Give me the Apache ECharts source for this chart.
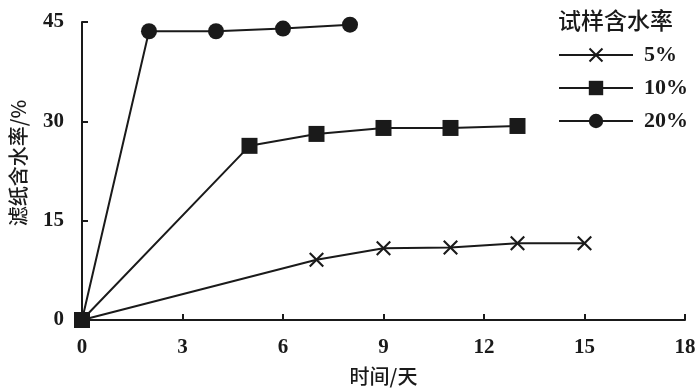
<!DOCTYPE html>
<html><head><meta charset="utf-8">
<script src="https://cdn.jsdelivr.net/npm/echarts@6/dist/echarts.min.js"></script>
<style>html,body{margin:0;padding:0;background:#fff}#c{width:700px;height:391px}</style>
</head><body><div id="c"></div>
<script>
const seriesNames = ['5%', '10%', '20%'];
const days5 = [0, 7, 9, 11, 13, 15];
const vals5 = [0, 9.1, 10.85, 10.95, 11.6, 11.6];
const days10 = [0, 5, 7, 9, 11, 13];
const vals10 = [0, 26.3, 28.1, 29.0, 29.0, 29.3];
const days20 = [0, 2, 4, 6, 8];
const vals20 = [0, 43.6, 43.6, 44.0, 44.6];
const xTicks = [0, 3, 6, 9, 12, 15, 18];
const yTicks = [0, 15, 30, 45];
const legendTitle = '试样含水率';
const xName = '时间/天';
const yName = '滤纸含水率/%';

const ink = '#1a1a1a';
const numFont = "'Liberation Serif', 'Noto Sans CJK SC', serif";
const cjkFont = "'Noto Sans CJK SC', 'Liberation Serif', sans-serif";
const crossPath = 'path://M0,1L1,0L5,4L9,0L10,1L6,5L10,9L9,10L5,6L1,10L0,9L4,5Z';

function pairs(xs, ys) { return xs.map((x, i) => [x, ys[i]]); }

const chart = echarts.init(document.getElementById('c'), null, {renderer: 'canvas'});
chart.setOption({
  animation: false,
  backgroundColor: '#fff',
  title: {
    text: legendTitle, left: 553, top: 4,
    textStyle: {fontFamily: cjkFont, fontSize: 23, fontWeight: 500, color: ink}
  },
  legend: {
    data: seriesNames, orient: 'vertical', left: 553, top: 39,
    itemWidth: 74, itemHeight: 18, itemGap: 11,
    textStyle: {fontFamily: numFont, fontSize: 22, fontWeight: 'bold', color: ink, lineHeight: 21, padding: [0, 0, 0, 6]},
    selectedMode: false
  },
  grid: {left: 80, right: 15, top: 22, bottom: 69, containLabel: false},
  xAxis: {
    type: 'value', min: 0, max: 18, interval: 3,
    name: xName, nameLocation: 'middle', nameGap: 46,
    nameTextStyle: {fontFamily: cjkFont, fontSize: 20, fontWeight: 500, color: ink},
    axisLine: {show: true, lineStyle: {color: ink, width: 2}},
    axisTick: {show: true, inside: true, length: 6, lineStyle: {color: ink, width: 2}},
    axisLabel: {fontFamily: numFont, fontSize: 21, fontWeight: 'bold', color: ink, margin: 17},
    splitLine: {show: false}
  },
  yAxis: {
    type: 'value', min: 0, max: 45, interval: 15,
    name: yName, nameLocation: 'middle', nameGap: 54, nameRotate: 90,
    nameTextStyle: {fontFamily: cjkFont, fontSize: 20, fontWeight: 500, color: ink, padding: [0, 0, 0, 16]},
    axisLine: {show: true, lineStyle: {color: ink, width: 2}},
    axisTick: {show: true, inside: true, length: 6, lineStyle: {color: ink, width: 2}},
    axisLabel: {fontFamily: numFont, fontSize: 21, fontWeight: 'bold', color: ink, margin: 18},
    splitLine: {show: false}
  },
  series: [
    {name: seriesNames[0], type: 'line', data: pairs(days5, vals5), symbol: crossPath, symbolSize: 15,
     lineStyle: {color: ink, width: 2}, itemStyle: {color: ink}, z: 2},
    {name: seriesNames[1], type: 'line', data: pairs(days10, vals10), symbol: 'rect', symbolSize: 16,
     lineStyle: {color: ink, width: 2}, itemStyle: {color: ink}, z: 4},
    {name: seriesNames[2], type: 'line', data: pairs(days20, vals20), symbol: 'circle', symbolSize: 16,
     lineStyle: {color: ink, width: 2}, itemStyle: {color: ink}, z: 3}
  ]
});
</script></body></html>
